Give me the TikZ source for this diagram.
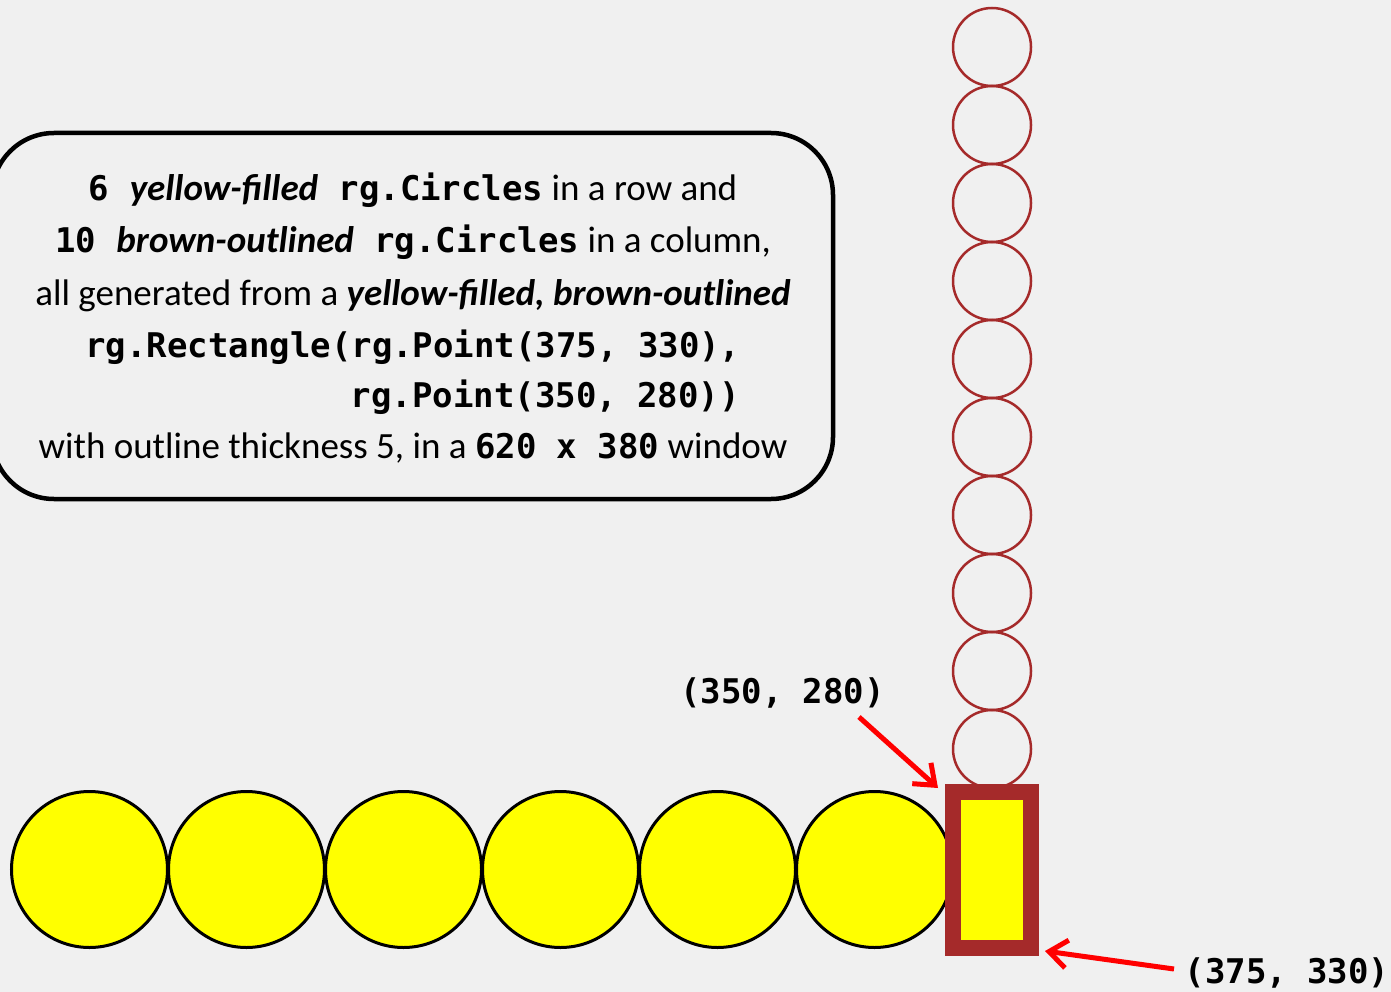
\documentclass[tikz,border=0pt]{standalone}
\usepackage{fontspec}
\setmainfont{Carlito}
\newfontfamily\monofont{DejaVu Sans Mono}
\usetikzlibrary{arrows.meta}
\definecolor{bg}{HTML}{F0F0F0}
\definecolor{tkbrown}{HTML}{A52A2A}
\definecolor{tkyellow}{HTML}{FFFF00}
\definecolor{tkred}{HTML}{FF0000}
\newcommand\cd[1]{{\monofont\bfseries\fontsize{34}{34}\selectfont #1}}
\newcommand\bi[1]{\textbf{\textit{#1}}}
\begin{document}
\begin{tikzpicture}[x=1pt,y=-1pt,
  ycirc/.style={circle, draw=black, line width=3pt, fill=tkyellow, minimum size=156pt, inner sep=0pt},
  bcirc/.style={circle, draw=tkbrown, line width=2.5pt, minimum size=78pt, inner sep=0pt},
  rectbox/.style={draw=tkbrown, fill=tkyellow, line width=15.6pt, minimum width=78pt, minimum height=156pt, inner sep=0pt},
  txt/.style={font=\fontsize{37}{37}\selectfont, anchor=base, inner sep=0pt},
  lbl/.style={anchor=base, inner sep=0pt},
  infobox/.style={draw=black, line width=4.5pt, rounded corners=62pt, minimum width=841pt, minimum height=366pt, inner sep=0pt},
  arr/.style={draw=tkred, line width=5pt, -{Straight Barb[length=18pt,width=28pt]}}
]
\useasboundingbox (0,0) rectangle (1391,992);
\fill[bg] (0,0) rectangle (1391,992);

% info box
\node[infobox] (box) at (412.5,316) {};
\node[txt] (t1) at (413,201) {\cd{6 }\bi{yellow-filled}\cd{ rg.Circles} in a row and};
\node[txt] (t2) at (413,252) {\cd{10 }\bi{brown-outlined}\cd{ rg.Circles} in a column,};
\node[txt] (t3) at (413,305) {all generated from a \bi{yellow-filled, brown-outlined}};
\node[txt] (t4) at (413,357) {\cd{rg.Rectangle(rg.Point(375, 330),}};
\node[txt, anchor=base east] (t5) at (740,407) {\cd{rg.Point(350, 280))}};
\node[txt] (t6) at (413,458) {with outline thickness 5, in a \cd{620 x 380} window};

% brown-outlined circles in a column
\foreach \k in {0,...,9} {
  \node[bcirc] (b\k) at (992,{47+78*\k}) {};
}

% yellow-filled circles in a row
\foreach \k in {0,...,5} {
  \node[ycirc] (y\k) at ({89.5+157*\k},869.5) {};
}

% rectangle
\node[rectbox] (rect) at (992,870) {};

% labels and arrows
\node[lbl] (l1) at (782.5,703) {\cd{(350, 280)}};
\node[lbl] (l2) at (1287,983) {\cd{(375, 330)}};
\coordinate (a1s) at (859,717);
\coordinate (a1e) at (938,788);
\coordinate (a2s) at (1174,969);
\coordinate (a2e) at (1045,951);
\draw[arr] (a1s) -- (a1e);
\draw[arr] (a2s) -- (a2e);
\end{tikzpicture}
\end{document}
